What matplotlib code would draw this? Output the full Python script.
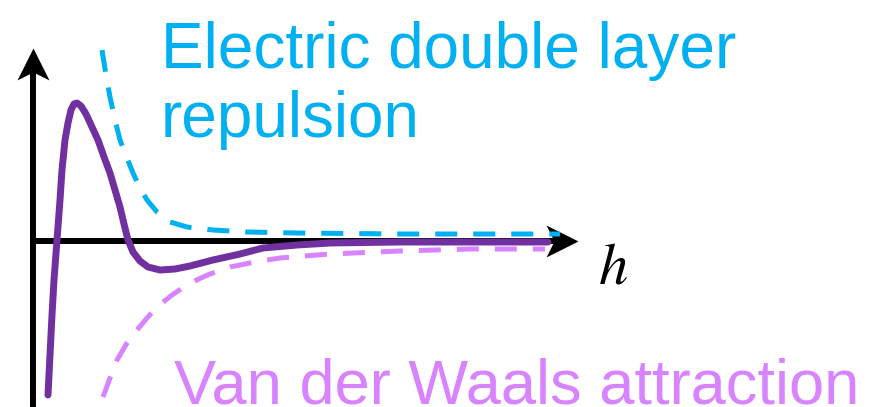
import numpy as np
import matplotlib
matplotlib.use("Agg")
import matplotlib.pyplot as plt
from matplotlib.path import Path

plt.rcParams["font.family"] = ["Liberation Sans", "DejaVu Sans"]
plt.rcParams["mathtext.fontset"] = "stix"

# schematic DLVO curves, separation h vs interaction energy (arbitrary units)
h_edl = [69, 73, 77, 82, 87, 94, 100, 107, 114, 124, 137, 154, 180, 214, 264, 367, 527]
v_edl = [191, 166, 144, 121, 101, 83, 68, 53, 41, 29, 19, 14, 11, 9, 8, 7, 7]

h_vdw = [70, 77, 84, 94, 104, 114, 124, 139, 157, 177, 197, 222, 247, 297, 367, 437, 512]
v_vdw = [-156, -137, -119, -102, -89, -77, -66, -54, -42, -33, -26, -21, -17, -13, -10, -8, -8]

h_tot = [15, 17, 19, 21, 24, 27, 29, 32, 35, 38, 41, 44, 48, 53, 59, 65, 71, 77, 82, 87,
         91, 95, 100, 107, 115, 127, 142, 157, 180, 207, 230, 264, 297, 367, 515]
v_tot = [-154, -114, -74, -39, 1, 41, 71, 101, 118, 131, 137, 138, 135, 127, 114, 101, 84, 68, 51, 34,
         17, 1, -11, -20, -26, -29, -28, -25, -19, -13, -7, -4, -2, -1, -1]

x_axis_end = 545
y_axis_end = 193

fig = plt.figure(figsize=(8.81, 4.07), dpi=100)
ax = fig.add_axes([0, 0, 1, 1])
ax.set_xlim(-33, 848)
ax.set_ylim(-166, 241)
ax.axis("off")

# arrow heads as custom markers (tip at marker origin)
codes = [Path.MOVETO, Path.LINETO, Path.LINETO, Path.LINETO, Path.CLOSEPOLY]
head_up = Path([(0, 0), (-0.5, -1), (0, -0.75), (0.5, -1), (0, 0)], codes)
head_right = Path([(0, 0), (-1, 0.5), (-0.75, 0), (-1, -0.5), (0, 0)], codes)

ax.plot([0, 0], [-170, y_axis_end - 20], color="black", lw=4.3, solid_capstyle="butt")
ax.plot([0, x_axis_end - 20], [0, 0], color="black", lw=4.3, solid_capstyle="butt")
ax.plot([0], [y_axis_end], marker=head_up, ms=46, color="black", mew=0)
ax.plot([x_axis_end], [0], marker=head_right, ms=46, color="black", mew=0)

ax.plot(h_edl, v_edl, color="#00B0F0", lw=3.6, dashes=(4.4, 3.2), dash_capstyle="butt")
ax.plot(h_vdw, v_vdw, color="#D883FF", lw=3.6, dashes=(4.4, 3.2), dash_capstyle="butt")
ax.plot(h_tot, v_tot, color="#7030A0", lw=5, solid_capstyle="round", solid_joinstyle="round")

ax.text(128, 104, "Electric double layer\nrepulsion", color="#00B0F0", fontsize=46,
        ha="left", va="baseline", linespacing=1.2)
ax.text(141, -162, "Van der Waals attraction", color="#D883FF", fontsize=45.5,
        ha="left", va="baseline")
ax.text(565, -42, "$h$", color="black", fontsize=42, ha="left", va="baseline")

plt.savefig("out.png", dpi=100)
